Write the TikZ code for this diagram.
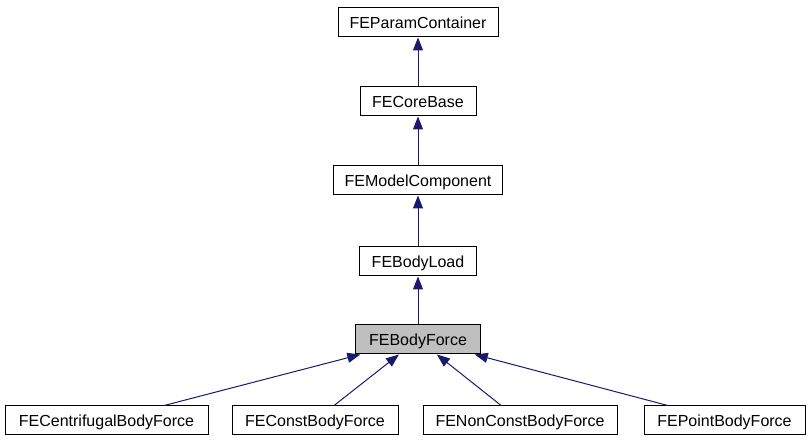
\documentclass[tikz,border=0pt]{standalone}
\usepackage{fontspec}
\setmainfont{Liberation Sans}
\usetikzlibrary{arrows.meta}
\definecolor{edgeblue}{RGB}{25,25,112}
\definecolor{curgray}{RGB}{191,191,191}
\begin{document}
\begin{tikzpicture}[x=1pt,y=-1pt,
  cls/.style={draw=black,line width=1pt,fill=white,minimum height=29pt,inner sep=0pt,
    font=\fontsize{16}{18}\selectfont,text depth=0pt},
  inh/.style={draw=edgeblue,line width=1pt,-{Triangle[length=13pt,width=10pt]}}]
\useasboundingbox (0,0) rectangle (809,443);
\node[cls,minimum width=160pt] (pc) at (418,22.5) {FEParamContainer};
\node[cls,minimum width=116pt] (cb) at (418,101.5) {FECoreBase};
\node[cls,minimum width=169pt] (mc) at (418,180.5) {FEModelComponent};
\node[cls,minimum width=117pt] (bl) at (418,261.5) {FEBodyLoad};
\node[cls,minimum width=125pt,fill=curgray] (bf) at (418,339.5) {FEBodyForce};
\node[cls,minimum width=203pt] (cf) at (106.5,420.5) {FECentrifugalBodyForce};
\node[cls,minimum width=166pt] (co) at (315,420.5) {FEConstBodyForce};
\node[cls,minimum width=194pt] (nc) at (520,420.5) {FENonConstBodyForce};
\node[cls,minimum width=161pt] (pt) at (724.5,420.5) {FEPointBodyForce};
\draw[inh] (cb) -- (pc);
\draw[inh] (mc) -- (cb);
\draw[inh] (bl) -- (mc);
\draw[inh] (bf) -- (bl);
\draw[inh] (cf) -- (bf);
\draw[inh] (co) -- (bf);
\draw[inh] (nc) -- (bf);
\draw[inh] (pt) -- (bf);
\end{tikzpicture}
\end{document}
